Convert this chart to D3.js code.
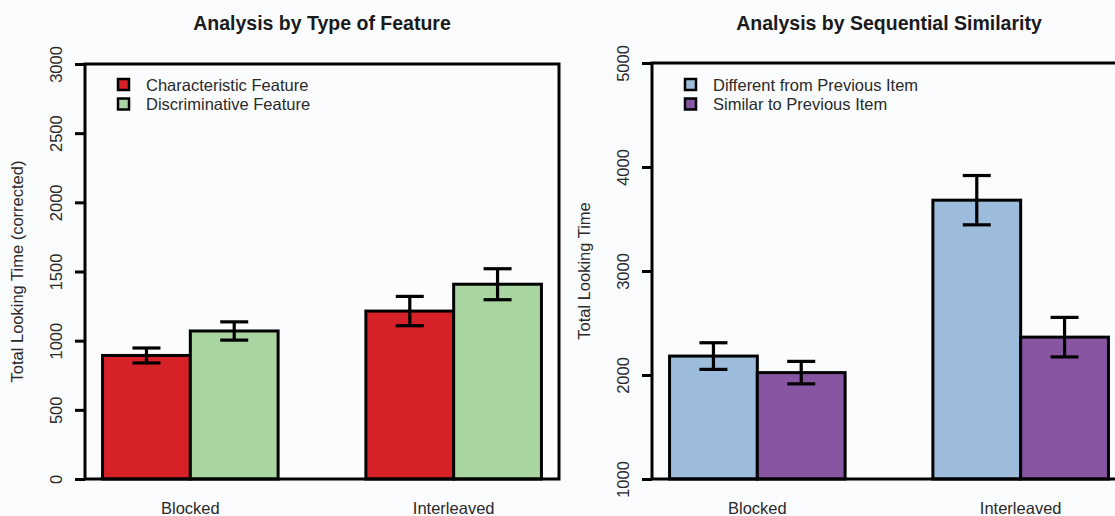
<!DOCTYPE html>
<html>
<head>
<meta charset="utf-8">
<script src="https://cdn.jsdelivr.net/npm/d3@7"></script>
<style>
  html, body { margin: 0; padding: 0; background: #fbfcfe; overflow: hidden; }
  svg { display: block; }
  text { font-family: "Liberation Sans", Arial, Helvetica, sans-serif; fill: #1a1a1a; }
</style>
</head>
<body>
<svg id="chart" width="1115" height="516"></svg>
<script>
// Conditions on the x axis
const categories = ["Blocked", "Interleaved"];

// Panel 1: looking time by type of feature (corrected)
const featureSeries = ["Characteristic Feature", "Discriminative Feature"];
const characteristicMean = [893, 1214];
const characteristicSE = [54, 106];
const discriminativeMean = [1070, 1408];
const discriminativeSE = [66, 112];
const featureTicks = [0, 500, 1000, 1500, 2000, 2500, 3000];

// Panel 2: looking time by sequential similarity
const similaritySeries = ["Different from Previous Item", "Similar to Previous Item"];
const differentMean = [2182, 3681];
const differentSE = [128, 237];
const similarMean = [2023, 2364];
const similarSE = [108, 190];
const similarityTicks = [1000, 2000, 3000, 4000, 5000];

const panels = [
  {
    title: "Analysis by Type of Feature",
    yLabel: "Total Looking Time (corrected)",
    series: featureSeries,
    means: [characteristicMean, discriminativeMean],
    ses: [characteristicSE, discriminativeSE],
    colors: ["#d62128", "#a8d5a0"],
    ticks: featureTicks,
    left: 85, top: 64, bottom: 479
  },
  {
    title: "Analysis by Sequential Similarity",
    yLabel: "Total Looking Time",
    series: similaritySeries,
    means: [differentMean, similarMean],
    ses: [differentSE, similarSE],
    colors: ["#9dbbda", "#8855a2"],
    ticks: similarityTicks,
    left: 652, top: 63, bottom: 479
  }
];

const plotWidth = 474;
const svg = d3.select("#chart");
svg.append("rect").attr("width", 1115).attr("height", 516).attr("fill", "#fbfcfe");

panels.forEach(p => {
  const g = svg.append("g");
  const right = p.left + plotWidth;

  // Group bands: one bar-width gap between groups, small margins at the ends
  const x0 = d3.scaleBand()
    .domain(categories)
    .range([p.left, right])
    .paddingInner(1 / 3)
    .paddingOuter(0.2 / 3);
  const x1 = d3.scaleBand()
    .domain(p.series)
    .range([0, x0.bandwidth()]);
  const y = d3.scaleLinear()
    .domain(d3.extent(p.ticks))
    .range([p.bottom, p.top]);
  const color = d3.scaleOrdinal().domain(p.series).range(p.colors);

  const rows = [];
  categories.forEach((c, ci) => {
    p.series.forEach((s, si) => {
      rows.push({ cat: c, series: s, mean: p.means[si][ci], se: p.ses[si][ci] });
    });
  });

  // Bars
  g.selectAll("rect.bar").data(rows).join("rect")
    .attr("class", "bar")
    .attr("x", d => x0(d.cat) + x1(d.series))
    .attr("width", x1.bandwidth())
    .attr("y", d => y(d.mean))
    .attr("height", d => p.bottom - y(d.mean))
    .attr("fill", d => color(d.series))
    .attr("stroke", "#000")
    .attr("stroke-width", 3);

  // Error bars (mean ± SE)
  const cap = 14;
  const eb = g.selectAll("g.err").data(rows).join("g")
    .attr("class", "err")
    .attr("transform", d => `translate(${x0(d.cat) + x1(d.series) + x1.bandwidth() / 2},0)`)
    .attr("stroke", "#000")
    .attr("stroke-width", 3.2);
  eb.append("line").attr("x1", 0).attr("x2", 0)
    .attr("y1", d => y(d.mean + d.se)).attr("y2", d => y(d.mean - d.se));
  eb.append("line").attr("x1", -cap).attr("x2", cap)
    .attr("y1", d => y(d.mean + d.se)).attr("y2", d => y(d.mean + d.se));
  eb.append("line").attr("x1", -cap).attr("x2", cap)
    .attr("y1", d => y(d.mean - d.se)).attr("y2", d => y(d.mean - d.se));

  // Plot frame
  g.append("rect")
    .attr("x", p.left).attr("y", p.top)
    .attr("width", plotWidth).attr("height", p.bottom - p.top)
    .attr("fill", "none").attr("stroke", "#000").attr("stroke-width", 3);

  // Y axis with labels rotated parallel to the axis
  const axis = g.append("g")
    .attr("transform", `translate(${p.left},0)`)
    .call(d3.axisLeft(y).tickValues(p.ticks).tickSize(10).tickSizeOuter(0).tickFormat(d3.format("d")));
  axis.select(".domain").remove();
  axis.selectAll(".tick line").attr("stroke", "#000").attr("stroke-width", 3);
  axis.selectAll(".tick text")
    .attr("x", null).attr("dy", null)
    .attr("transform", "translate(-23.5,0) rotate(-90)")
    .attr("text-anchor", "middle")
    .attr("font-size", 16.5)
    .style("fill", "#2a2a2a");

  // Category labels
  g.selectAll("text.cat").data(categories).join("text")
    .attr("class", "cat")
    .attr("x", d => x0(d) + x0.bandwidth() / 2)
    .attr("y", 514)
    .attr("text-anchor", "middle")
    .attr("font-size", 16.5)
    .style("fill", "#2a2a2a")
    .text(d => d);

  // Title
  g.append("text")
    .attr("x", p.left + plotWidth / 2)
    .attr("y", 30)
    .attr("text-anchor", "middle")
    .attr("font-size", 19.5)
    .attr("font-weight", "bold")
    .text(p.title);

  // Y axis title
  g.append("text")
    .attr("transform", `translate(${p.left - 62},${(p.top + p.bottom) / 2}) rotate(-90)`)
    .attr("text-anchor", "middle")
    .attr("font-size", 16.5)
    .style("fill", "#2a2a2a")
    .text(p.yLabel);

  // Legend
  const lg = g.selectAll("g.legend").data(p.series).join("g")
    .attr("class", "legend")
    .attr("transform", (d, i) => `translate(${p.left + 32},${78 + i * 19.5})`);
  lg.append("rect")
    .attr("x", 1).attr("y", 1).attr("width", 11).attr("height", 11)
    .attr("fill", d => color(d))
    .attr("stroke", "#000").attr("stroke-width", 2.5);
  lg.append("text")
    .attr("x", 29).attr("y", 12.5)
    .attr("font-size", 16.5)
    .style("fill", "#2a2a2a")
    .text(d => d);
});
</script>
</body>
</html>
